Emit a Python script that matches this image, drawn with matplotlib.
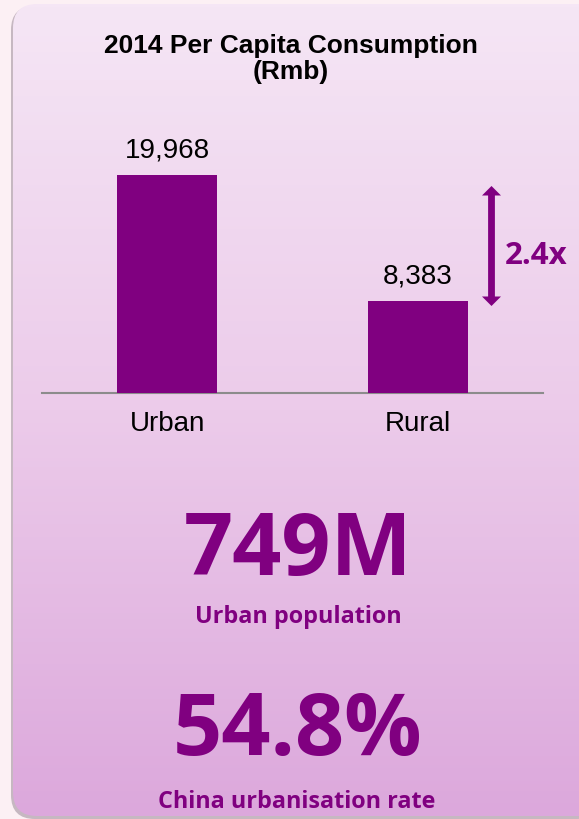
import numpy as np
import matplotlib
matplotlib.use("Agg")
import matplotlib.pyplot as plt
from matplotlib.patches import FancyBboxPatch, Polygon
from matplotlib.colors import LinearSegmentedColormap

categories = ["Urban", "Rural"]
values = [19968, 8383]
value_labels = ["19,968", "8,383"]
title = "2014 Per Capita Consumption\n(Rmb)"
ratio_label = "2.4x"
big1, sub1 = "749M", "Urban population"
big2, sub2 = "54.8%", "China urbanisation rate"

W, H = 579, 820
PURPLE = "#800080"
fig = plt.figure(figsize=(W / 100, H / 100), dpi=100)
fig.patch.set_facecolor("#fcf0f4")

def fx(px):
    return px / W

def fy(py):
    return 1 - py / H

# background card with gradient
bg = fig.add_axes([0, 0, 1, 1], zorder=0)
bg.set_xlim(0, W)
bg.set_ylim(H, 0)
bg.axis("off")
shadow = FancyBboxPatch((11, 7), 590, 813, boxstyle="round,pad=0,rounding_size=24",
                        facecolor="#9a8a98", edgecolor="none", alpha=0.55)
bg.add_patch(shadow)
card = FancyBboxPatch((13, 5), 590, 812, boxstyle="round,pad=0,rounding_size=24",
                      facecolor="none", edgecolor="none")
bg.add_patch(card)
cmap = LinearSegmentedColormap.from_list("g", ["#f5e6f5", "#eccbea", "#dca8dc"])
grad = np.linspace(0, 1, 256).reshape(-1, 1)
im = bg.imshow(grad, cmap=cmap, extent=[13, 603, 817, 5], aspect="auto", zorder=1)
im.set_clip_path(card)

# bar chart
ax_left, ax_right, ax_base, ax_top = 42, 543, 394, 100
ax = fig.add_axes([fx(ax_left), fy(ax_base), fx(ax_right - ax_left), (ax_base - ax_top) / H], zorder=2)
ax.patch.set_alpha(0)
x = np.arange(len(categories))
ymax = values[0] * (ax_base - ax_top) / (ax_base - 176)
ax.bar(x, values, width=0.4, color=PURPLE, zorder=3)
ax.set_xlim(-0.5, 1.5)
ax.set_ylim(0, ymax)
for s in ["top", "right", "left"]:
    ax.spines[s].set_visible(False)
ax.spines["bottom"].set_color("#8c8c8c")
ax.spines["bottom"].set_linewidth(1.5)
ax.set_yticks([])
ax.set_xticks(x)
ax.set_xticklabels(categories, fontsize=20, family="Liberation Sans")
ax.tick_params(axis="x", length=0, pad=12)
for xi, v, lab in zip(x, values, value_labels):
    ax.annotate(lab, (xi, v), xytext=(0, 9), textcoords="offset points",
                ha="center", va="bottom", fontsize=20, family="Liberation Sans")

# ratio arrow (double-headed), pixel coordinates in background axes
cx, y0, y1 = 491.5, 187, 307
sw, hw, hl = 3.4, 9.5, 9.5
arrow_pts = [(cx, y0), (cx + hw, y0 + hl), (cx + sw, y0 + hl), (cx + sw, y1 - hl),
             (cx + hw, y1 - hl), (cx, y1), (cx - hw, y1 - hl), (cx - sw, y1 - hl),
             (cx - sw, y0 + hl), (cx - hw, y0 + hl)]
bg.add_patch(Polygon(arrow_pts, closed=True, facecolor=PURPLE, edgecolor="none", zorder=5))
fig.text(fx(536), fy(256), ratio_label, ha="center", va="center", color=PURPLE,
         fontsize=22.5, fontweight="bold", family="Open Sans")

fig.text(fx(291), fy(59), title, ha="center", va="center", fontsize=19,
         fontweight="bold", family="Liberation Sans", linespacing=1.1)

fig.text(fx(298), fy(575), big1, ha="center", va="baseline", color=PURPLE,
         fontsize=62, fontweight="bold", family="Open Sans")
fig.text(fx(298), fy(623), sub1, ha="center", va="baseline", color=PURPLE,
         fontsize=16.8, fontweight="bold", family="Open Sans")
fig.text(fx(298), fy(755), big2, ha="center", va="baseline", color=PURPLE,
         fontsize=62, fontweight="bold", family="Open Sans")
fig.text(fx(297), fy(808), sub2, ha="center", va="baseline", color=PURPLE,
         fontsize=16.8, fontweight="bold", family="Open Sans")

fig.savefig("out.png", dpi=100, facecolor=fig.get_facecolor())
